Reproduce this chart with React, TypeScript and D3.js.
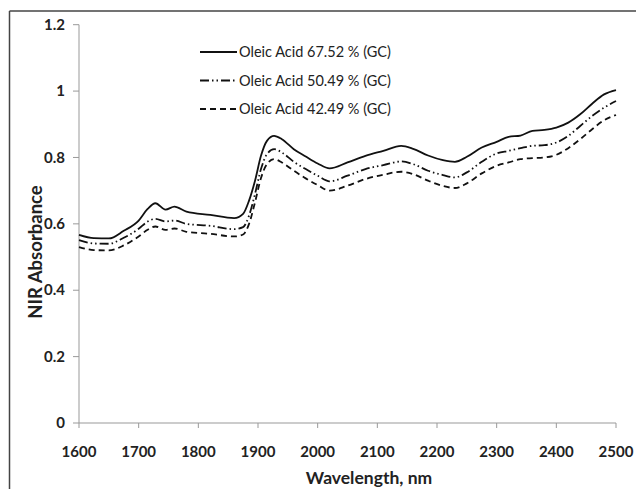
import React from 'react';
import * as d3 from 'd3';

// wavelengths (nm)
const wavelengths = [
  1600, 1625, 1650, 1675, 1700, 1715, 1728, 1745, 1760, 1780, 1820, 1860, 1875, 1885, 1895,
  1905, 1915, 1927, 1940, 1960, 1980, 2000, 2020, 2050, 2080, 2110, 2140, 2160, 2185, 2210,
  2230, 2250, 2275, 2300, 2320, 2340, 2360, 2380, 2400, 2420, 2440, 2460, 2480, 2500,
];

const oleic6752 = [
  0.567, 0.557, 0.556, 0.579, 0.61, 0.645, 0.662, 0.643, 0.652, 0.637, 0.627, 0.617, 0.63, 0.67, 0.73,
  0.805, 0.85, 0.865, 0.855, 0.825, 0.803, 0.782, 0.767, 0.785, 0.805, 0.82, 0.835, 0.826, 0.806, 0.792,
  0.787, 0.802, 0.83, 0.847, 0.862, 0.866, 0.88, 0.883, 0.89, 0.905, 0.93, 0.962, 0.99, 1.003,
];

const oleic5049 = [
  0.551, 0.541, 0.54, 0.558, 0.585, 0.607, 0.615, 0.607, 0.61, 0.6, 0.594, 0.584, 0.59, 0.625, 0.69,
  0.765, 0.81, 0.825, 0.815, 0.787, 0.765, 0.745, 0.728, 0.745, 0.765, 0.777, 0.788, 0.78, 0.76, 0.747,
  0.74, 0.755, 0.787, 0.812, 0.82, 0.828, 0.835, 0.837, 0.845, 0.865, 0.895, 0.925, 0.95, 0.97,
];

const oleic4249 = [
  0.53, 0.521, 0.52, 0.535, 0.562, 0.582, 0.592, 0.582, 0.586, 0.576, 0.57, 0.562, 0.568, 0.6, 0.665,
  0.738, 0.78, 0.795, 0.785, 0.76, 0.737, 0.717, 0.7, 0.715, 0.735, 0.748, 0.757, 0.75, 0.73, 0.714,
  0.708, 0.722, 0.752, 0.775, 0.785, 0.795, 0.798, 0.8, 0.808, 0.828, 0.855, 0.885, 0.912, 0.928,
];

const seriesLabels = ['Oleic Acid 67.52 % (GC)', 'Oleic Acid 50.49 % (GC)', 'Oleic Acid 42.49 % (GC)'];
const xTicks = [1600, 1700, 1800, 1900, 2000, 2100, 2200, 2300, 2400, 2500];
const yTicks = [0, 0.2, 0.4, 0.6, 0.8, 1, 1.2];

const W = 636;
const H = 489;
const left = 79;
const right = 616;
const top = 24.7;
const bottom = 423;
const font = 'Lato, "Open Sans", sans-serif';

const dashes = ['none', '9,3,1.5,3,1.5,3', '6,4'];

export default function App() {
  const x = d3.scaleLinear().domain([1600, 2500]).range([left, right]);
  const y = d3.scaleLinear().domain([0, 1.2]).range([bottom, top]);

  const line = d3
    .line<number>()
    .x((d, i) => x(wavelengths[i]))
    .y((d) => y(d))
    .curve(d3.curveMonotoneX);

  const series = [oleic6752, oleic5049, oleic4249];

  return (
    <svg
      width={W}
      height={H}
      style={{ position: 'absolute', left: 0, top: 0, background: '#fff' }}
      fontFamily={font}
    >
      <rect x={0} y={0} width={W} height={H} fill="#fff" />
      {/* outer frame, only top and left show */}
      <line x1={9.5} x2={W} y1={11} y2={11} stroke="#444" strokeWidth={1.5} />
      <line x1={9.5} x2={9.5} y1={11} y2={H} stroke="#444" strokeWidth={1.5} />

      {/* axes */}
      <line x1={left} x2={left} y1={top} y2={bottom} stroke="#999" />
      <line x1={left} x2={right} y1={bottom} y2={bottom} stroke="#999" />
      {yTicks.map((t) => (
        <g key={t}>
          <line x1={left - 6} x2={left} y1={y(t)} y2={y(t)} stroke="#999" />
          <text x={65} y={y(t)} dy="0.35em" textAnchor="end" fontSize={15} fontWeight="bold" fill="#222">
            {t}
          </text>
        </g>
      ))}
      {xTicks.map((t) => (
        <g key={t}>
          <line x1={x(t)} x2={x(t)} y1={bottom} y2={bottom + 5} stroke="#999" />
          <text x={x(t)} y={452} dy="0.35em" textAnchor="middle" fontSize={15} fontWeight="bold" fill="#222">
            {t}
          </text>
        </g>
      ))}

      <text x={369} y={478} dy="0.35em" textAnchor="middle" fontSize={17.5} fontWeight="bold" fill="#222">
        Wavelength, nm
      </text>
      <text
        transform={`translate(36,${252}) rotate(-90)`}
        dy="0.35em"
        textAnchor="middle"
        fontSize={18.5}
        fontWeight="bold"
        fill="#222"
      >
        NIR Absorbance
      </text>

      {series.map((s, i) => (
        <path key={i} d={line(s) || ''} fill="none" stroke="#111" strokeWidth={1.8} strokeDasharray={dashes[i]} />
      ))}

      {/* legend */}
      {seriesLabels.map((l, i) => (
        <g key={l} transform={`translate(200,${52 + i * 28.5})`}>
          <line x1={0} x2={37} y1={0} y2={0} stroke="#111" strokeWidth={2} strokeDasharray={dashes[i]} />
          <text x={39} y={0} dy="0.35em" fontSize={14.5} fill="#222">
            {l}
          </text>
        </g>
      ))}
    </svg>
  );
}
